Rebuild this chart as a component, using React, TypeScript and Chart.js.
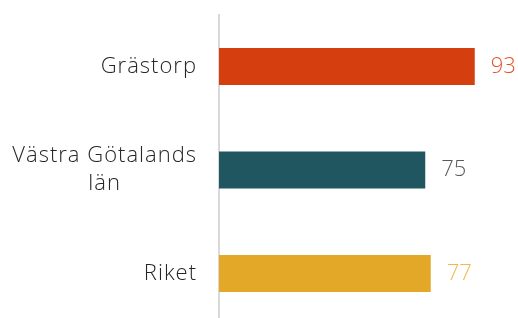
import React, { useEffect, useRef } from "react";
import { Chart, registerables } from "chart.js";

Chart.register(...registerables);

const categories: string[][] = [["Grästorp"], ["Västra Götalands", "län"], ["Riket"]];
const values: number[] = [93, 75, 77];
const barColors: string[] = ["#D53F10", "#20565F", "#E3A827"];
const labelColors: string[] = ["#E5532A", "#595959", "#F0B94C"];

const FONT = "'Open Sans', sans-serif";

export default function App() {
  const ref = useRef<HTMLCanvasElement | null>(null);

  useEffect(() => {
    if (!ref.current) return;

    const catLabels = {
      id: "catLabels",
      afterDraw(chart: any) {
        const ctx = chart.ctx;
        const y = chart.scales.y;
        ctx.save();
        ctx.font = `300 22px ${FONT}`;
        const ls = 1.0;
        (ctx as any).letterSpacing = `${ls}px`;
        ctx.fillStyle = "#262626";
        ctx.textBaseline = "middle";
        ctx.textAlign = "left";
        const right = chart.chartArea.left - 23 + ls;
        const lh = 28;
        categories.forEach((lines, i) => {
          const cy = y.getPixelForTick(i);
          const widths = lines.map((l) => ctx.measureText(l).width);
          const maxW = Math.max(...widths);
          const cx = right - maxW / 2;
          const start = cy - ((lines.length - 1) * lh) / 2;
          lines.forEach((l, j) => ctx.fillText(l, cx - widths[j] / 2, start + j * lh));
        });
        ctx.restore();
      },
    };

    const valueLabels = {
      id: "valueLabels",
      afterDatasetsDraw(chart: any) {
        const ctx = chart.ctx;
        const meta = chart.getDatasetMeta(0);
        ctx.save();
        ctx.font = `300 22px ${FONT}`;
        ctx.textBaseline = "middle";
        ctx.textAlign = "left";
        meta.data.forEach((bar: any, i: number) => {
          ctx.fillStyle = labelColors[i];
          ctx.fillText(String(values[i]), bar.x + 16, bar.y);
        });
        ctx.restore();
      },
    };

    const chart = new Chart(ref.current, {
      type: "bar",
      data: {
        labels: categories.map((c) => c.join(" ")),
        datasets: [
          {
            data: values,
            backgroundColor: barColors,
            borderWidth: 0,
            categoryPercentage: 1,
            barPercentage: 0.357,
          },
        ],
      },
      options: {
        indexAxis: "y",
        animation: false,
        responsive: false,
        maintainAspectRatio: false,
        layout: { padding: { top: 14.75, bottom: 4.75, right: 24, left: 0 } },
        plugins: { legend: { display: false }, tooltip: { enabled: false } },
        scales: {
          x: { display: false, min: 0, max: 100 },
          y: {
            grid: { display: false },
            ticks: { display: false },
            border: { display: true, color: "#D9D9D9", width: 2 },
            afterFit(scale: any) {
              scale.width = 219;
            },
          },
        },
      },
      plugins: [catLabels, valueLabels],
    });
    return () => chart.destroy();
  }, []);

  return (
    <div style={{ width: 518, height: 318, overflow: "hidden", position: "relative" }}>
      <style>{`body{margin:0;overflow:hidden}`}</style>
      <canvas ref={ref} width={518} height={330} style={{ display: "block" }} />
    </div>
  );
}
